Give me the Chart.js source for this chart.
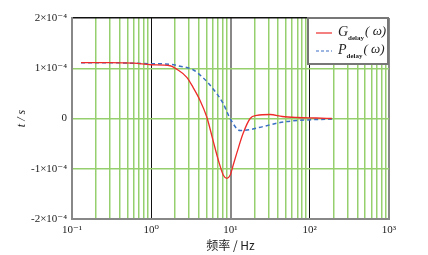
<!DOCTYPE html>
<html>
<head>
<meta charset="utf-8">
<script src="https://cdn.jsdelivr.net/npm/chart.js@4.4.1/dist/chart.umd.min.js"></script>
<style>
    html, body { margin: 0; padding: 0; background: #fff; }
    #wrap { width: 428px; height: 255px; }
</style>
</head>
<body>
<div id="wrap"><canvas id="chart" width="428" height="255"></canvas></div>
<script>
// G_delay(ω) 곡선 (주파수 Hz, 값 단위 1e-4 s)
const freqG = [0.13, 0.3, 0.6, 1, 1.73, 2.1, 2.81, 3.37, 4.13, 5.02, 6.03, 7.03, 8.13, 8.98, 9.89, 10.8, 12, 14.4, 17.7, 21.5, 31.6, 45, 70, 120, 190];
const valG = [1.11, 1.11, 1.1, 1.07, 1.05, 0.98, 0.82, 0.62, 0.36, 0.03, -0.44, -0.83, -1.13, -1.19, -1.13, -0.93, -0.69, -0.3, 0, 0.06, 0.08, 0.04, 0.02, 0.01, 0];

// P_delay(ω) 곡선
const freqP = [0.13, 0.3, 0.6, 1, 1.73, 2.31, 3.37, 4.51, 6.03, 8.07, 9.89, 13.2, 17.7, 25.8, 42.3, 69.3, 192];
const valP = [1.11, 1.11, 1.1, 1.09, 1.08, 1.04, 0.97, 0.81, 0.59, 0.3, 0, -0.24, -0.22, -0.16, -0.08, -0.04, -0.01];

// 축 눈금 라벨
const xDecades = [0.1, 1, 10, 100, 1000];
const xTickLabels = ['10⁻¹', '10⁰', '10¹', '10²', '10³'];
const yTickValues = [2, 1, 0, -1, -2];
const yTickLabels = ['2×10⁻⁴', '1×10⁻⁴', '0', '-1×10⁻⁴', '-2×10⁻⁴'];

// 범례 텍스트
const legendMain = ['G', 'P'];
const legendSub = 'delay';
const legendTail = '( ω)';

const SCALE = 1e-4;
const GREEN = '#96cf6e';
const SERIF = '"Liberation Serif", "DejaVu Serif", serif';

function toPoints(xs, ys) {
    return xs.map((x, i) => ({ x: x, y: ys[i] * SCALE }));
}

function near(a, b) {
    return Math.abs(a - b) <= Math.abs(b) * 1e-6 + 1e-12;
}

// 범례 직접 그리기 (아래첨자 포함)
const legendBox = {
    id: 'legendBox',
    afterDraw(chart) {
        const ctx = chart.ctx;
        const x0 = 307, y0 = 17, w = 82, h = 48;
        ctx.save();
        ctx.fillStyle = '#fff';
        ctx.fillRect(x0, y0, w, h);
        ctx.strokeStyle = '#777';
        ctx.lineWidth = 2;
        ctx.strokeRect(x0 + 1, y0 + 1, w - 2, h - 2);
        const rows = [
            { y: y0 + 16, color: '#ee2a2a', dash: [] },
            { y: y0 + 34, color: '#3a6fc4', dash: [3, 2] },
        ];
        rows.forEach((r, i) => {
            ctx.beginPath();
            ctx.setLineDash(r.dash);
            ctx.strokeStyle = r.color;
            ctx.lineWidth = 1.2;
            ctx.moveTo(x0 + 9, r.y);
            ctx.lineTo(x0 + 25, r.y);
            ctx.stroke();
            ctx.setLineDash([]);
            ctx.fillStyle = '#222';
            ctx.textBaseline = 'middle';
            ctx.font = 'italic 14px ' + SERIF;
            let tx = x0 + 31;
            ctx.fillText(legendMain[i], tx, r.y - 1);
            tx += ctx.measureText(legendMain[i]).width;
            ctx.font = 'bold 7px ' + SERIF;
            ctx.fillText(legendSub, tx, r.y + 5);
            tx += ctx.measureText(legendSub).width + 1;
            ctx.font = 'italic 13px ' + SERIF;
            ctx.fillText(legendTail, tx, r.y - 1);
        });
        ctx.restore();
    }
};

const ctx = document.getElementById('chart').getContext('2d');
new Chart(ctx, {
    type: 'line',
    data: {
        datasets: [
            {
                label: 'G',
                data: toPoints(freqG, valG),
                borderColor: '#ee2a2a',
                borderWidth: 1.3,
                pointRadius: 0,
                cubicInterpolationMode: 'monotone',
            },
            {
                label: 'P',
                data: toPoints(freqP, valP),
                borderColor: '#3a6fc4',
                borderWidth: 1.5,
                borderDash: [4, 3],
                pointRadius: 0,
                cubicInterpolationMode: 'monotone',
            },
        ]
    },
    options: {
        responsive: false,
        animation: false,
        layout: { padding: { left: 0, right: 39, top: 18, bottom: 0 } },
        plugins: {
            legend: { display: false },
            tooltip: { enabled: false },
        },
        scales: {
            x: {
                type: 'logarithmic',
                min: 0.1,
                max: 1000,
                afterBuildTicks(scale) {
                    const ticks = [];
                    xDecades.slice(0, 4).forEach(d => {
                        for (let k = 1; k < 10; k++) ticks.push({ value: +(d * k).toPrecision(3) });
                    });
                    ticks.push({ value: 1000 });
                    scale.ticks = ticks;
                },
                afterFit(scale) { scale.height = 36; },
                ticks: {
                    autoSkip: false,
                    maxRotation: 0,
                    padding: 5,
                    color: '#222',
                    font: { family: SERIF, size: 11 },
                    callback(value) {
                        const i = xDecades.findIndex(d => near(value, d));
                        return i >= 0 ? xTickLabels[i] : '';
                    },
                },
                grid: {
                    drawTicks: false,
                    color(c) {
                        const v = c.tick ? c.tick.value : 0;
                        if (near(v, 1) || near(v, 100)) return '#111';
                        if (near(v, 10) || near(v, 0.1) || near(v, 1000)) return '#888';
                        return GREEN;
                    },
                    lineWidth(c) {
                        const v = c.tick ? c.tick.value : 0;
                        if (near(v, 10) || near(v, 1000)) return 2;
                        if (near(v, 1) || near(v, 100) || near(v, 0.1)) return 1;
                        return 1.5;
                    },
                },
                border: { color: '#888', width: 2 },
                title: {
                    display: true,
                    text: '频率 / Hz',
                    color: '#222',
                    font: { family: '"Noto Sans CJK SC", ' + SERIF, size: 12 },
                    padding: { top: 0, bottom: 2 },
                },
            },
            y: {
                min: -2 * SCALE,
                max: 2 * SCALE,
                afterBuildTicks(scale) {
                    scale.ticks = yTickValues.map(v => ({ value: v * SCALE }));
                },
                afterFit(scale) { scale.width = 72; },
                ticks: {
                    padding: 5,
                    color: '#222',
                    font: { family: SERIF, size: 11 },
                    callback(value) {
                        const i = yTickValues.findIndex(v => near(value, v * SCALE));
                        return i >= 0 ? yTickLabels[i] : '';
                    },
                },
                grid: {
                    drawTicks: false,
                    lineWidth: 1.5,
                    color(c) {
                        const v = c.tick ? c.tick.value : 0;
                        if (near(v, 2 * SCALE)) return '#111';
                        if (near(v, -2 * SCALE)) return '#888';
                        return GREEN;
                    },
                },
                border: { color: '#888', width: 2 },
                title: {
                    display: true,
                    text: 't / s',
                    color: '#222',
                    font: { family: SERIF, size: 12, style: 'italic' },
                    padding: { top: 15, bottom: 0 },
                },
            },
        },
    },
    plugins: [legendBox],
});
</script>
</body>
</html>
